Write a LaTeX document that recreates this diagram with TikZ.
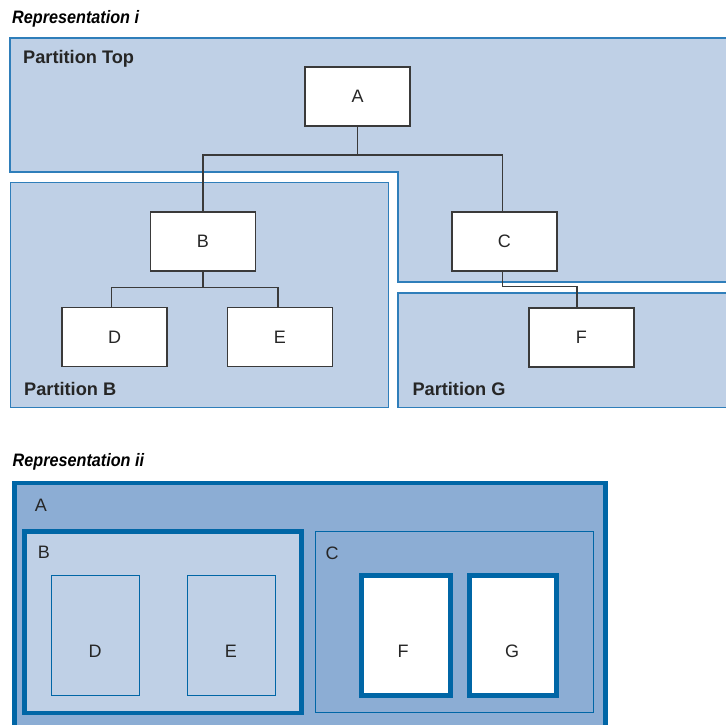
\documentclass[tikz,border=0pt]{standalone}
\usepackage{fontspec}
\setmainfont{Liberation Sans}
\newfontfamily\titlefont[FakeStretch=0.9]{Liberation Sans}
\definecolor{lightfill}{HTML}{BFD0E6}
\definecolor{midfill}{HTML}{8CADD4}
\definecolor{darkblue}{HTML}{0066A6}
\definecolor{partline}{HTML}{2F7EBA}
\definecolor{nodeline}{HTML}{3A3A3A}
\tikzset{
  treebox/.style={draw=nodeline, line width=1.4pt, fill=white, minimum width=105pt, minimum height=59pt, inner sep=0pt, font=\fontsize{18}{21}\selectfont, text=black!85},
  partition/.style={draw=partline, line width=1.4pt, fill=lightfill},
  conn/.style={draw=nodeline, line width=1.3pt},
  titletext/.style={anchor=base west, inner sep=0pt, font=\titlefont\bfseries\itshape\fontsize{18}{21}\selectfont},
  parttext/.style={anchor=base west, inner sep=0pt, font=\bfseries\fontsize{18.2}{21}\selectfont, text=black!85},
  letter/.style={inner sep=0pt, font=\fontsize{18}{21}\selectfont, text=black!85}
}
\begin{document}
\begin{tikzpicture}[x=1pt, y=-1pt]
\clip (0,0) rectangle (726,725);
\fill[white] (0,0) rectangle (726,725);

% ---------- Representation i ----------
\node[titletext] (t1) at (12,24) {Representation i};

\fill[lightfill] (726,38) -- (10,38) -- (10,172) -- (398,172) -- (398,282) -- (726,282) -- cycle;
\draw[partline, line width=1.4pt] (727,38) -- (10,38) -- (10,172) -- (398,172) -- (398,282) -- (727,282);
\draw[partition] (10.5,182.5) rectangle (388.5,407.5);
\draw[partition] (398,293) rectangle (727,407.5);

\node[parttext] (pt) at (23,63.3) {Partition Top};
\node[parttext] (pb) at (24,395.7) {Partition B};
\node[parttext] (pg) at (412.3,395.7) {Partition G};

\node[treebox] (A) at (357.5,96.5) {A};
\node[treebox] (B) at (203,241.5) {B};
\node[treebox] (C) at (504.3,241.5) {C};
\node[treebox] (D) at (114.5,337.2) {D};
\node[treebox] (E) at (280,337.2) {E};
\node[treebox] (F) at (581.3,337.5) {F};

\coordinate (hA) at (357.5,155);
\coordinate (hB) at (203,287.7);
\coordinate (hC) at (502.3,286.7);
\draw[conn] (A.south) -- (hA);
\draw[conn] (B.north) |- (hA) -| ([xshift=-2pt]C.north);
\draw[conn] (B.south) -- (hB);
\draw[conn] ([xshift=-3pt]D.north) |- (hB) -| ([xshift=-2pt]E.north);
\draw[conn] ([xshift=-2pt]C.south) -- (hC) -| ([xshift=-4.3pt]F.north);

% ---------- Representation ii ----------
\node[titletext] (t2) at (12.5,466.6) {Representation ii};

\filldraw[fill=midfill, draw=darkblue, line width=4.8pt] (14.5,483) rectangle (605.5,745);
\node[letter] (la) at (41,505) {A};

\filldraw[fill=lightfill, draw=darkblue, line width=4.8pt] (24.2,531.5) rectangle (301.7,713);
\node[letter] (lb) at (44,552) {B};
\filldraw[fill=lightfill, draw=darkblue, line width=1.2pt] (51.2,575.3) rectangle (139.2,695.5);
\node[letter] (ld) at (95,651) {D};
\filldraw[fill=lightfill, draw=darkblue, line width=1.2pt] (187.2,575.3) rectangle (275.6,695.5);
\node[letter] (le) at (231,651) {E};

\filldraw[fill=midfill, draw=darkblue, line width=1.2pt] (315.2,531.2) rectangle (593.2,712.2);
\node[letter] (lc) at (332,553) {C};
\filldraw[fill=white, draw=darkblue, line width=4.8pt] (361.8,575.2) rectangle (450.2,695.2);
\node[letter] (lf) at (403,651) {F};
\filldraw[fill=white, draw=darkblue, line width=4.8pt] (469.2,575.2) rectangle (556.8,695.2);
\node[letter] (lg) at (512,651) {G};
\end{tikzpicture}
\end{document}
